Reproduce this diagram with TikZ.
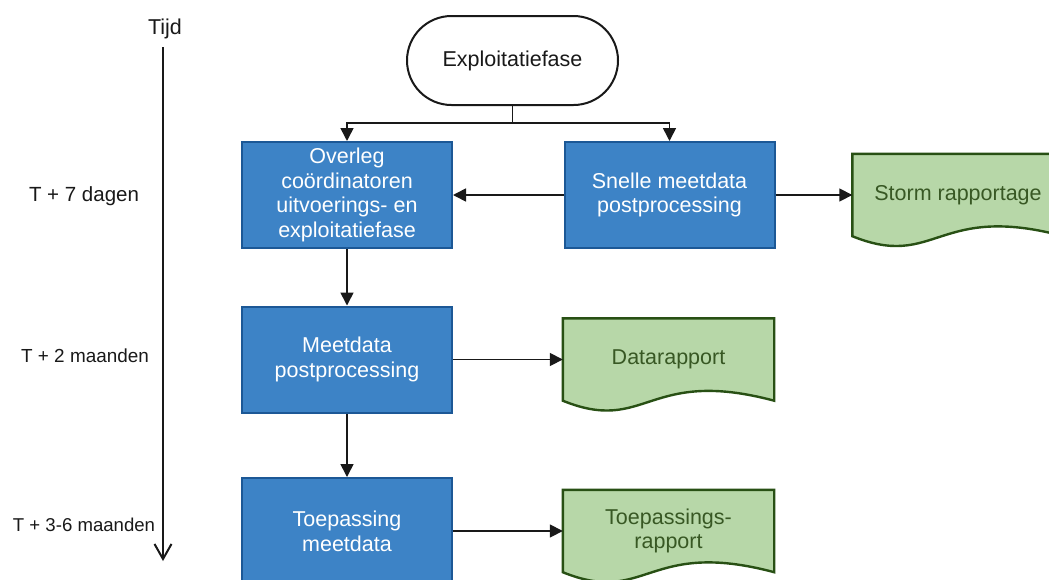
\documentclass[tikz,border=0pt]{standalone}
\usepackage{fontspec}
\setmainfont{Liberation Sans}
\usetikzlibrary{arrows.meta,calc}
\pgfdeclarelayer{background}
\pgfsetlayers{background,main}
\definecolor{boxblue}{RGB}{61,131,198}
\definecolor{boxedge}{RGB}{28,88,150}
\definecolor{docfill}{RGB}{183,215,168}
\definecolor{docedge}{RGB}{40,80,20}
\definecolor{doctext}{RGB}{56,88,36}
\definecolor{ink}{RGB}{25,25,25}
\newcommand\myTopStrut{\rule{0pt}{29pt}}
\begin{document}
\begin{tikzpicture}[x=1pt,y=-1pt,
  bigtext/.style={font=\fontsize{21.5}{24.7}\selectfont},
  smalltext/.style={font=\fontsize{20.5}{24}\selectfont, text=ink, inner sep=0pt},
  proc/.style={bigtext, rectangle, draw=boxedge, fill=boxblue, line width=2pt, text=white,
    minimum width=210pt, minimum height=106pt, inner sep=0pt, align=center,
    execute at begin node=\myTopStrut},
  terminal/.style={bigtext, rectangle, rounded corners=44.5pt, draw=ink, fill=white, line width=2pt,
    text=ink, minimum width=211pt, minimum height=89pt, inner sep=0pt},
  docnode/.style={bigtext, rectangle, text=doctext, minimum width=211pt, minimum height=82pt,
    inner sep=0pt, align=center},
  docshape/.style={fill=docfill, draw=docedge, line width=2.4pt, line join=miter},
  conn/.style={draw=ink, line width=1.6pt},
  arrow/.style={conn, -{Triangle[length=13pt,width=13pt]}},
  timearrow/.style={draw=ink, line width=2pt, -{Straight Barb[length=15pt,width=17pt]}}
]
\useasboundingbox (0,0) rectangle (1049,579);
\clip (0,0) rectangle (1049,579);

% timeline
\node[smalltext, font=\fontsize{21.5}{24}\selectfont] (tijd) at (165,29) {Tijd};
\coordinate (tend) at (163,561);
\draw[timearrow] (163,47) -- (tend);
\node[smalltext] (t1) at (84,196) {T + 7 dagen};
\node[smalltext, font=\fontsize{18.9}{22}\selectfont] (t2) at (85,356) {T + 2 maanden};
\node[smalltext, font=\fontsize{18.6}{22}\selectfont] (t3) at (84,525) {T + 3-6 maanden};

% nodes
\node[terminal] (term) at (512.5,60.5) {Exploitatiefase};
\node[proc] (b1) at (347,195) {Overleg\\coördinatoren\\uitvoerings- en\\exploitatiefase};
\node[proc] (b2) at (669.5,195) {Snelle meetdata\\postprocessing};
\node[proc] (b3) at (347,359.5) {Meetdata\\postprocessing};
\node[proc] (b4) at (347,531) {Toepassing\\meetdata};
\node[docnode] (st) at (958,195) {Storm rapportage};
\node[docnode] (dr) at (668.5,359.5) {Datarapport};
\node[docnode] (tr) at (668.5,531) {Toepassings-\\rapport};

\begin{pgfonlayer}{background}
\clip (0,0) rectangle (1049,579);
\fill[white] (0,0) rectangle (1049,579);
\foreach \n in {st,dr,tr}{
  \path[docshape] (\n.north west) -- (\n.north east) -- (\n.south east)
    .. controls ($(\n.south west)+(84,-34)$) and ($(\n.south west)+(84,34)$) .. (\n.south west) -- cycle;
}
\end{pgfonlayer}

% connectors
\coordinate (j) at (512.5,123);
\draw[conn] (term.south) -- (j);
\draw[arrow] (j) -| (b1.north);
\draw[arrow] (j) -| (b2.north);
\draw[arrow] (b2.west) -- (b1.east);
\draw[arrow] (b2.east) -- (st.west);
\draw[arrow] (b1.south) -- (b3.north);
\draw[arrow] (b3.east) -- (dr.west);
\draw[arrow] (b3.south) -- (b4.north);
\draw[arrow] (b4.east) -- (tr.west);
\end{tikzpicture}
\end{document}
